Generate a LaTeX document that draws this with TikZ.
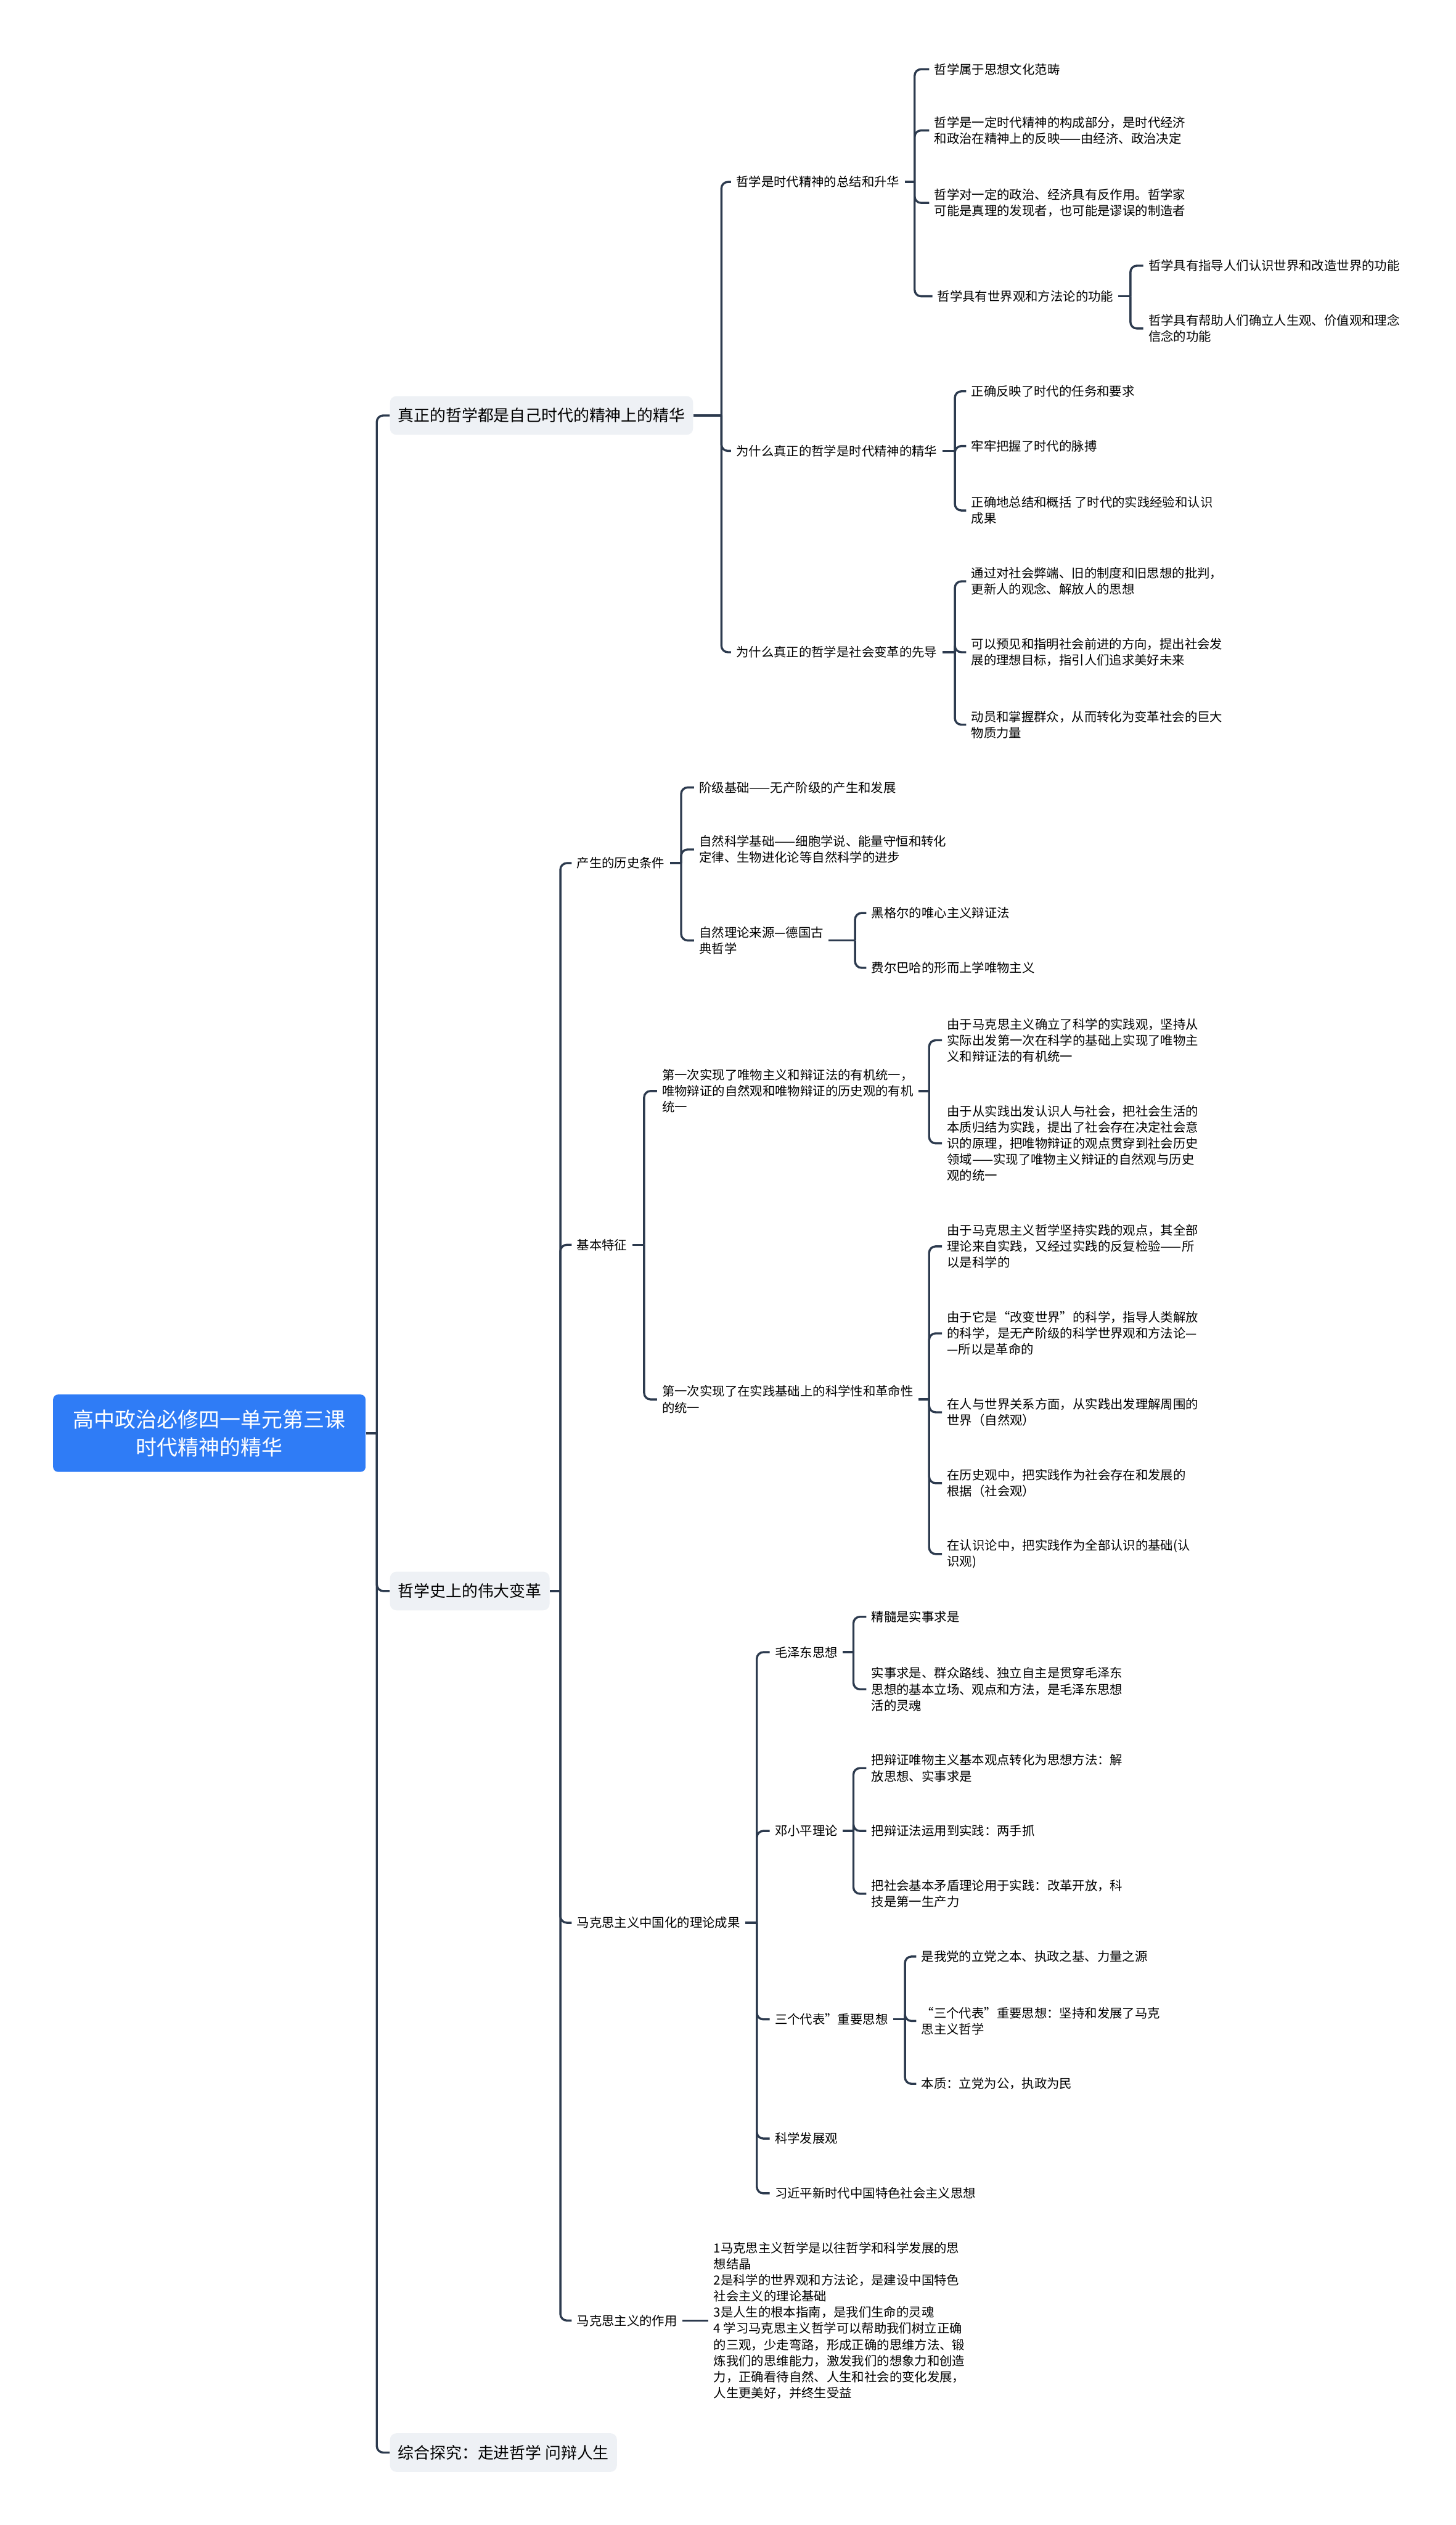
\documentclass[tikz,border=0pt]{standalone}
\usepackage{fontspec}
\setmainfont{Noto Sans CJK SC}
\definecolor{linecol}{HTML}{2C3A4E}
\definecolor{rootblue}{HTML}{2F7CF6}
\definecolor{boxgray}{HTML}{EEF1F5}
\tikzset{
  root/.style={fill=rootblue, rounded corners=3pt, text=white, align=center,
    font=\fontsize{13}{17}\selectfont, minimum width=194pt, minimum height=48pt},
  topic/.style={fill=boxgray, rounded corners=4pt, anchor=west, inner xsep=5pt,
    minimum height=24pt, font=\fontsize{9.9}{12}\selectfont},
  leaf/.style={anchor=west, align=left, inner xsep=3pt, inner ysep=1pt, xshift=-3pt,
    font=\fontsize{7.8}{10}\selectfont},
  conn/.style={draw=linecol, line width=1.3pt, rounded corners=4pt},
}
\begin{document}
\begin{tikzpicture}[x=1pt,y=-1pt]
  \fill[white] (0,0) rectangle (904,1568);
  \useasboundingbox (0,0) rectangle (904,1568);
  % root and main topics
  \node[root] (root) at (130,890) {高中政治必修四一单元第三课\\时代精神的精华};
  \node[topic] (t1) at (242,258) {真正的哲学都是自己时代的精神上的精华};
  \node[topic] (t2) at (242,988) {哲学史上的伟大变革};
  \node[topic] (t3) at (242,1523) {综合探究：走进哲学 问辩人生};
  % branch 1
  \node[leaf] (a1) at (457,113) {哲学是时代精神的总结和升华};
  \node[leaf] (a2) at (457,280) {为什么真正的哲学是时代精神的精华};
  \node[leaf] (a3) at (457,405) {为什么真正的哲学是社会变革的先导};
  \node[leaf] (b1) at (580,43) {哲学属于思想文化范畴};
  \node[leaf] (b2) at (580,81) {哲学是一定时代精神的构成部分，是时代经济\\和政治在精神上的反映——由经济、政治决定};
  \node[leaf] (b3) at (580,126) {哲学对一定的政治、经济具有反作用。哲学家\\可能是真理的发现者，也可能是谬误的制造者};
  \node[leaf] (b4) at (582,184) {哲学具有世界观和方法论的功能};
  \node[leaf] (c1) at (713,165) {哲学具有指导人们认识世界和改造世界的功能};
  \node[leaf] (c2) at (713,204) {哲学具有帮助人们确立人生观、价值观和理念\\信念的功能};
  \node[leaf] (d1) at (603,243) {正确反映了时代的任务和要求};
  \node[leaf] (d2) at (603,277) {牢牢把握了时代的脉搏};
  \node[leaf] (d3) at (603,317) {正确地总结和概括 了时代的实践经验和认识\\成果};
  \node[leaf] (e1) at (603,361) {通过对社会弊端、旧的制度和旧思想的批判，\\更新人的观念、解放人的思想};
  \node[leaf] (e2) at (603,405) {可以预见和指明社会前进的方向，提出社会发\\展的理想目标，指引人们追求美好未来};
  \node[leaf] (e3) at (603,450) {动员和掌握群众，从而转化为变革社会的巨大\\物质力量};
  % branch 2
  \node[leaf] (f1) at (358,536) {产生的历史条件};
  \node[leaf] (f2) at (358,773) {基本特征};
  \node[leaf] (f3) at (358,1194) {马克思主义中国化的理论成果};
  \node[leaf] (f4) at (358,1441) {马克思主义的作用};
  \node[leaf] (g1) at (434,489) {阶级基础——无产阶级的产生和发展};
  \node[leaf] (g2) at (434,527.5) {自然科学基础——细胞学说、能量守恒和转化\\定律、生物进化论等自然科学的进步};
  \node[leaf] (g3) at (434,584) {自然理论来源—德国古\\典哲学};
  \node[leaf] (h1) at (541,567) {黑格尔的唯心主义辩证法};
  \node[leaf] (h2) at (541,601) {费尔巴哈的形而上学唯物主义};
  \node[leaf] (i1) at (411,677.5) {第一次实现了唯物主义和辩证法的有机统一，\\唯物辩证的自然观和唯物辩证的历史观的有机\\统一};
  \node[leaf] (i2) at (411,869) {第一次实现了在实践基础上的科学性和革命性\\的统一};
  \node[leaf] (j1) at (588,646) {由于马克思主义确立了科学的实践观，坚持从\\实际出发第一次在科学的基础上实现了唯物主\\义和辩证法的有机统一};
  \node[leaf] (j2) at (588,710) {由于从实践出发认识人与社会，把社会生活的\\本质归结为实践，提出了社会存在决定社会意\\识的原理，把唯物辩证的观点贯穿到社会历史\\领域——实现了唯物主义辩证的自然观与历史\\观的统一};
  \node[leaf] (k1) at (588,774) {由于马克思主义哲学坚持实践的观点，其全部\\理论来自实践，又经过实践的反复检验——所\\以是科学的};
  \node[leaf] (k2) at (588,828) {由于它是“改变世界”的科学，指导人类解放\\的科学，是无产阶级的科学世界观和方法论—\\—所以是革命的};
  \node[leaf] (k3) at (588,877) {在人与世界关系方面，从实践出发理解周围的\\世界（自然观）};
  \node[leaf] (k4) at (588,921) {在历史观中，把实践作为社会存在和发展的\\根据（社会观）};
  \node[leaf] (k5) at (588,965) {在认识论中，把实践作为全部认识的基础(认\\识观)};
  \node[leaf] (m1) at (481,1026) {毛泽东思想};
  \node[leaf] (m2) at (481,1137) {邓小平理论};
  \node[leaf] (m3) at (481,1254) {三个代表”重要思想};
  \node[leaf] (m4) at (481,1328) {科学发展观};
  \node[leaf] (m5) at (481,1362) {习近平新时代中国特色社会主义思想};
  \node[leaf] (n1) at (541,1004) {精髓是实事求是};
  \node[leaf] (n2) at (541,1049) {实事求是、群众路线、独立自主是贯穿毛泽东\\思想的基本立场、观点和方法，是毛泽东思想\\活的灵魂};
  \node[leaf] (o1) at (541,1098) {把辩证唯物主义基本观点转化为思想方法：解\\放思想、实事求是};
  \node[leaf] (o2) at (541,1137) {把辩证法运用到实践：两手抓};
  \node[leaf] (o3) at (541,1176) {把社会基本矛盾理论用于实践：改革开放，科\\技是第一生产力};
  \node[leaf] (q1) at (572,1215) {是我党的立党之本、执政之基、力量之源};
  \node[leaf] (q2) at (572,1255) {“三个代表”重要思想：坚持和发展了马克\\思主义哲学};
  \node[leaf] (q3) at (572,1294) {本质：立党为公，执政为民};
  \node[leaf] (r1) at (443,1441) {1马克思主义哲学是以往哲学和科学发展的思\\想结晶\\2是科学的世界观和方法论，是建设中国特色\\社会主义的理论基础\\3是人生的根本指南，是我们生命的灵魂\\4 学习马克思主义哲学可以帮助我们树立正确\\的三观，少走弯路，形成正确的思维方法、锻\\炼我们的思维能力，激发我们的想象力和创造\\力，正确看待自然、人生和社会的变化发展，\\人生更美好，并终生受益};
  % junctions
  \coordinate (jroot) at (234,890);
  \coordinate (jt1) at (448,258);
  \coordinate (ja1) at (568,113);
  \coordinate (jb4) at (702,184);
  \coordinate (ja2) at (593,280);
  \coordinate (ja3) at (593,405);
  \coordinate (jt2) at (348,988);
  \coordinate (jf1) at (423,536);
  \coordinate (jg3) at (531,584);
  \coordinate (jf2) at (400,773);
  \coordinate (ji1) at (577,677.5);
  \coordinate (ji2) at (577,869);
  \coordinate (jf3) at (470,1194);
  \coordinate (jm1) at (530,1026);
  \coordinate (jm2) at (530,1137);
  \coordinate (jm3) at (562,1254);
  % connectors
  \draw[conn] (root.east) -- (jroot);
  \foreach \n in {t1,t2,t3} \draw[conn] (jroot) |- (\n.west);
  \draw[conn] (t1.east) -- (jt1);
  \foreach \n in {a1,a2,a3} \draw[conn] (jt1) |- (\n.west);
  \draw[conn] (a1.east) -- (ja1);
  \foreach \n in {b1,b2,b3,b4} \draw[conn] (ja1) |- (\n.west);
  \draw[conn] (b4.east) -- (jb4);
  \foreach \n in {c1,c2} \draw[conn] (jb4) |- (\n.west);
  \draw[conn] (a2.east) -- (ja2);
  \foreach \n in {d1,d2,d3} \draw[conn] (ja2) |- (\n.west);
  \draw[conn] (a3.east) -- (ja3);
  \foreach \n in {e1,e2,e3} \draw[conn] (ja3) |- (\n.west);
  \draw[conn] (t2.east) -- (jt2);
  \foreach \n in {f1,f2,f3,f4} \draw[conn] (jt2) |- (\n.west);
  \draw[conn] (f1.east) -- (jf1);
  \foreach \n in {g1,g2,g3} \draw[conn] (jf1) |- (\n.west);
  \draw[conn] (g3.east) -- (jg3);
  \foreach \n in {h1,h2} \draw[conn] (jg3) |- (\n.west);
  \draw[conn] (f2.east) -- (jf2);
  \foreach \n in {i1,i2} \draw[conn] (jf2) |- (\n.west);
  \draw[conn] (i1.east) -- (ji1);
  \foreach \n in {j1,j2} \draw[conn] (ji1) |- (\n.west);
  \draw[conn] (i2.east) -- (ji2);
  \foreach \n in {k1,k2,k3,k4,k5} \draw[conn] (ji2) |- (\n.west);
  \draw[conn] (f3.east) -- (jf3);
  \foreach \n in {m1,m2,m3,m4,m5} \draw[conn] (jf3) |- (\n.west);
  \draw[conn] (m1.east) -- (jm1);
  \foreach \n in {n1,n2} \draw[conn] (jm1) |- (\n.west);
  \draw[conn] (m2.east) -- (jm2);
  \foreach \n in {o1,o2,o3} \draw[conn] (jm2) |- (\n.west);
  \draw[conn] (m3.east) -- (jm3);
  \foreach \n in {q1,q2,q3} \draw[conn] (jm3) |- (\n.west);
  \draw[conn] (f4.east) -- (r1.west);
\end{tikzpicture}
\end{document}
